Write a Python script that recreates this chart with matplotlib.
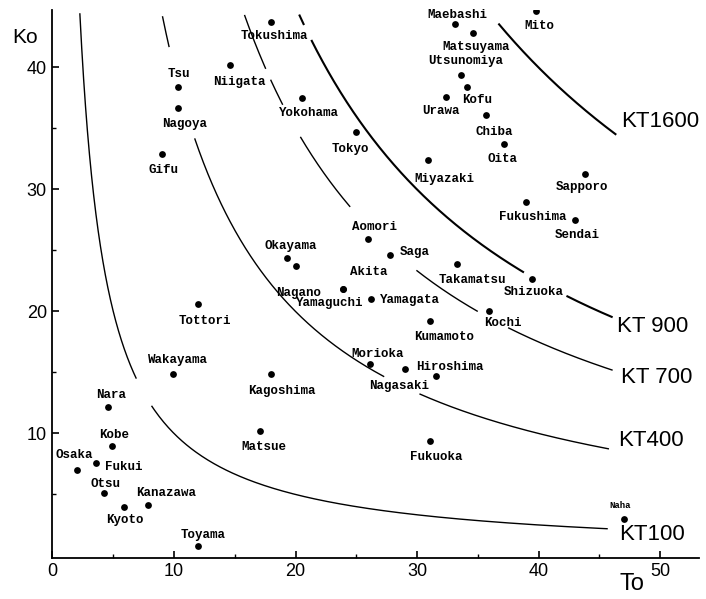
import matplotlib
matplotlib.use("Agg")
import matplotlib.pyplot as plt
import numpy as np

# ---------------- data ----------------
cities = ["Tokushima", "Niigata", "Tsu", "Nagoya", "Gifu", "Yokohama", "Tokyo",
          "Okayama", "Nagano", "Aomori", "Saga", "Akita", "Yamaguchi", "Yamagata",
          "Takamatsu", "Shizuoka", "Kochi", "Kumamoto", "Morioka", "Hiroshima",
          "Nagasaki", "Fukuoka", "Naha", "Sapporo", "Fukushima", "Sendai",
          "Miyazaki", "Oita", "Chiba", "Urawa", "Kofu", "Utsunomiya", "Matsuyama",
          "Maebashi", "Mito", "Tottori", "Wakayama", "Kagoshima", "Nara", "Matsue",
          "Kobe", "Osaka", "Fukui", "Otsu", "Kyoto", "Kanazawa", "Toyama"]

T0 = [18.0, 14.6, 10.3, 10.3, 9.0, 20.5, 25.0,
      19.3, 20.0, 26.0, 27.8, 23.9, 23.9, 26.2,
      33.3, 39.5, 35.9, 31.1, 26.1, 29.0,
      31.6, 31.1, 47.0, 43.8, 39.0, 43.0,
      30.9, 37.2, 35.7, 32.4, 34.1, 33.6, 34.6,
      33.1, 39.8, 12.0, 9.9, 18.0, 4.6, 17.1,
      4.9, 2.0, 3.6, 4.2, 5.9, 7.9, 12.0]

K0 = [43.7, 40.2, 38.4, 36.7, 32.9, 37.5, 34.7,
      24.4, 23.7, 25.9, 24.6, 21.8, 21.8, 21.0,
      23.9, 22.7, 20.0, 19.2, 15.7, 15.3,
      14.7, 9.4, 3.0, 31.3, 29.0, 27.5,
      32.4, 33.7, 36.1, 37.6, 38.4, 39.4, 42.8,
      43.6, 44.6, 20.6, 14.9, 14.9, 12.2, 10.2,
      9.0, 7.0, 7.6, 5.1, 4.0, 4.1, 0.8]

kt_values = [100, 400, 700, 900, 1600]
kt_labels = ["KT100", "KT400", "KT 700", "KT 900", "KT1600"]

x_ticks = [0, 10, 20, 30, 40, 50]
y_ticks = [10, 20, 30, 40]

# ---------------- layout (positions / styles) ----------------
label_offsets = [(-31, -16.6), (-16.7, -20.3), (-10, 10), (-15.7, -19.7), (-13.7, -19.3),
                 (-23, -18), (-24.3, -20), (-23, 8.3), (-19.7, -30), (-16.6, 9.7),
                 (10, 0), (7.4, 14), (-47.3, -17), (9, -3.4), (-18, -19),
                 (-29, -16.7), (-5, -14.3), (-16.7, -18.3), (-18.3, 7.3), (11, -1.7),
                 (-67.7, -13.3), (-20.3, -19), (-14, 10.4), (-29, -16), (-27.4, -18.3),
                 (-20, -18.3), (-14, -21.4), (-17, -17.4), (-11, -20), (-24.3, -17.6),
                 (-5, -16.3), (-32.7, 10.7), (-30.6, -16.3), (-27.6, 5.7), (-12, -17.3),
                 (-20, -20.3), (-25, 10.3), (-23, -20), (-12, 9), (-18.6, -18.7),
                 (-13, 7.7), (-21.7, 12), (8.6, -7), (-13, 6.3), (-18.3, -16),
                 (-12, 9), (-18, 7.4)]

# visible T-ranges of each iso-curve (gaps left for labels)
kt_segments = {
    100: [(2.25, 6.9), (8.15, 45.7)],
    400: [(9.05, 9.6), (11.7, 27.3), (30.2, 45.8)],
    700: [(15.8, 17.55), (17.95, 18.95), (20.4, 24.5), (29.95, 35.0), (37.5, 46.1)],
    900: [(20.3, 20.7), (21.3, 38.8), (42.3, 46.1)],
    1600: [(36.7, 46.4)],
}
kt_widths = {100: 1.0, 400: 1.0, 700: 1.0, 900: 1.5, 1600: 1.5}
kt_label_pos = {100: (46.65, 1.68), 400: (46.55, 9.43), 700: (46.8, 14.59),
                900: (46.5, 18.77), 1600: (46.78, 35.57)}

# ---------------- figure ----------------
fig = plt.figure(figsize=(7.06, 5.99), dpi=100)
W, H = 706, 599
ax = fig.add_axes([52.5 / W, 41.1 / H, 646.4 / W, 547.8 / H])
ax.set_xlim(0, 53.2)
ax.set_ylim(-0.2, 44.7)

for kt in kt_values:
    for a, b in kt_segments[kt]:
        t = np.linspace(a, b, 300)
        ax.plot(t, kt / t, color="black", lw=kt_widths[kt], zorder=1,
                solid_capstyle="butt")

for kt, lab in zip(kt_values, kt_labels):
    x, y = kt_label_pos[kt]
    ax.text(x, y, lab, fontsize=16, family="Liberation Sans", ha="left",
            va="center", color="black", clip_on=False)

ax.scatter(T0, K0, s=24, color="black", zorder=3, linewidths=0)

for name, t, k, (dx, dy) in zip(cities, T0, K0, label_offsets):
    fs = 6.5 if name == "Naha" else 9
    ax.annotate(name, (t, k), xytext=(dx, dy), textcoords="offset pixels",
                ha="left", va="baseline", fontsize=fs, family="Liberation Mono",
                fontweight="bold", color="black", zorder=4)

for s in ["top", "right"]:
    ax.spines[s].set_visible(False)
for s in ["left", "bottom"]:
    ax.spines[s].set_linewidth(1.3)

ax.set_xticks(x_ticks)
ax.set_yticks(y_ticks)
ax.set_xticks([5, 15, 25, 35, 45], minor=True)
ax.set_yticks([5, 15, 25, 35], minor=True)
ax.tick_params(which="major", direction="in", length=5, width=1.2,
               labelsize=13, pad=4)
ax.tick_params(which="minor", direction="in", length=3, width=1.0)
for lbl in ax.get_xticklabels() + ax.get_yticklabels():
    lbl.set_family("Liberation Sans")

fig.text(12 / W, 1 - 43 / H, "Ko", fontsize=15, family="Liberation Sans",
         ha="left", va="baseline")
fig.text(619 / W, 1 - 590 / H, "To", fontsize=17, family="Liberation Sans",
         ha="left", va="baseline")

fig.savefig("out.png", dpi=100)
